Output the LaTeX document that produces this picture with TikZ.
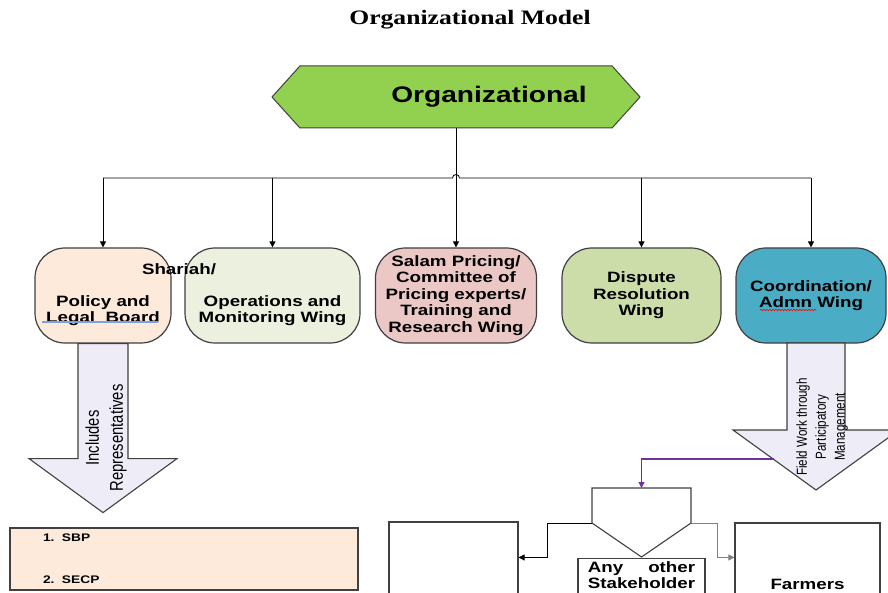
\documentclass[tikz,border=0pt]{standalone}
\usepackage{fontspec}
\usepackage{calc}
\setmainfont{Liberation Sans}
\newfontfamily\titlefont[FakeStretch=1.25]{Liberation Serif}
\newfontfamily\widefont[FakeStretch=1.25]{Liberation Sans}
\newfontfamily\narrowfont[FakeStretch=0.8]{Liberation Sans}
\usetikzlibrary{arrows.meta,shapes.symbols,decorations.pathmorphing}
\definecolor{darkline}{HTML}{404040}
\definecolor{hexgreen}{HTML}{92D050}
\definecolor{peach}{HTML}{FDEADA}
\definecolor{opsfill}{HTML}{EBF1DE}
\definecolor{salfill}{HTML}{EBC8C6}
\definecolor{disfill}{HTML}{CCDDAA}
\definecolor{coofill}{HTML}{4BACC6}
\definecolor{arrowfill}{HTML}{EEECF6}
\definecolor{purp}{HTML}{7030A0}
\definecolor{ulblue}{HTML}{7EA0DE}
\tikzset{
  wingtext/.style={align=center, font=\widefont\bfseries\fontsize{15}{16.5}\selectfont},
  wing/.style={draw=darkline, line width=1.2pt, rounded corners=30pt,
    minimum width=#1, minimum height=95pt, wingtext},
  conn/.style={-{Triangle[length=6pt,width=6pt]}, line width=0.8pt},
  bigarrow/.style={draw=darkline, line width=1.1pt, fill=arrowfill},
  plainbox/.style={draw=darkline, line width=1.1pt, fill=white},
  turned/.style={rotate=90, align=center}
}
\begin{document}
\begin{tikzpicture}[x=1pt, y=-1pt]
\useasboundingbox (0,0) rectangle (888,593);
\node (title) at (470,20) [font=\titlefont\bfseries\fontsize{20.5}{24}\selectfont] {Organizational Model};
\node (org) at (456,97) [signal, signal to=west and east, signal pointer angle=96,
  draw=darkline, line width=1pt, fill=hexgreen, minimum width=368pt, minimum height=62pt,
  label={[xshift=33pt, font=\widefont\bfseries\fontsize{22.5}{26}\selectfont]center:Organizational}] {};
% the five wings
\node (pol) at (103,295.5) [wing=136pt, fill=peach,
  label={[wingtext, yshift=-15pt]center:{Policy and\\Legal\ \ Board}}] {};
\node (ops) at (272.5,295.5) [wing=175pt, fill=opsfill,
  label={[wingtext, yshift=-15pt]center:{Operations and\\Monitoring Wing}}] {};
\node (shar) at (179,269) [wingtext] {Shariah/};
\node (sal) at (456,295.5) [wing=161pt, fill=salfill] {Salam Pricing/\\Committee of\\Pricing experts/\\Training and\\Research Wing};
\node (dis) at (641.5,295.5) [wing=159pt, fill=disfill] {Dispute\\Resolution\\Wing};
\node (coo) at (811,295.5) [wing=150pt, fill=coofill] {Coordination/\\Admn Wing};
\draw[line width=2.5pt, draw=ulblue] (42,322) -- (158,322);
\draw[red, line width=0.6pt, decorate, decoration={snake, amplitude=0.8pt, segment length=3pt}] (760,310) -- (816,310);
% bus
\coordinate (bus) at (456,178);
\draw[line width=0.8pt] (pol.north |- bus) -- ([xshift=-3.5pt]bus) arc[start angle=180, end angle=0, radius=3.5pt] -- (coo.north |- bus);
\draw[conn] (org.south) -- (sal.north);
\foreach \w in {pol,ops,dis,coo}
  \draw[conn] (\w.north |- bus) -- (\w.north);
% block arrows
\draw[bigarrow] ([xshift=-25pt]pol.south) -- ++(0,115) -- ++(-49,0) -- ++(74,54) -- ++(74,-54) -- ++(-49,0) -- ++(0,-115) -- cycle;
\node (incl) at (106,438) [turned, font=\narrowfont\fontsize{18.5}{24}\selectfont] {Includes\\Representatives};
\draw[bigarrow] (787,343) -- (787,430) -- (733,430) -- (816,490) -- (899,430) -- (845,430) -- (845,343) -- cycle;
\node (field) at (822,427) [turned, font=\narrowfont\fontsize{14.5}{19}\selectfont] {Field Work through\\Participatory\\Management};
% representatives
\node (reps) at (184,559) [plainbox, fill=peach, minimum width=348pt, minimum height=62pt,
  text width=282pt, inner xsep=33pt, align=left,
  font=\widefont\bfseries\fontsize{11}{42}\selectfont] {\makebox[19pt][l]{1.}SBP\\\makebox[19pt][l]{2.}SECP};
% field work
\coordinate (fw) at (774,459);
\coordinate (ofpt) at (641.5,488);
\coordinate (ofpl) at (592,523);
\coordinate (ofpr) at (691,523);
\draw[plainbox] (ofpl) |- (ofpt) -| (ofpr) -- (641.5,557) -- cycle;
\draw[conn, draw=purp, line width=1.1pt] (fw) -| (ofpt);
\node (blank) at (453.5,597) [plainbox, minimum width=129pt, minimum height=150pt] {};
\node (any) at (641.5,558) [plainbox, anchor=north, minimum width=127pt, minimum height=60pt,
  label={[wingtext, anchor=north]north:{\makebox[\widthof{Stakeholder}][s]{Any other}\\Stakeholder}}] {};
\node (farm) at (807.5,584) [plainbox, minimum width=145pt, minimum height=122pt, wingtext] {Farmers};
\draw[conn] (ofpl) -- ++(-45,0) |- ([yshift=-36pt]blank.north east);
\draw[conn, draw=gray] (ofpr) -- ++(26,0) |- ([yshift=-35pt]farm.north west);
\end{tikzpicture}
\end{document}
